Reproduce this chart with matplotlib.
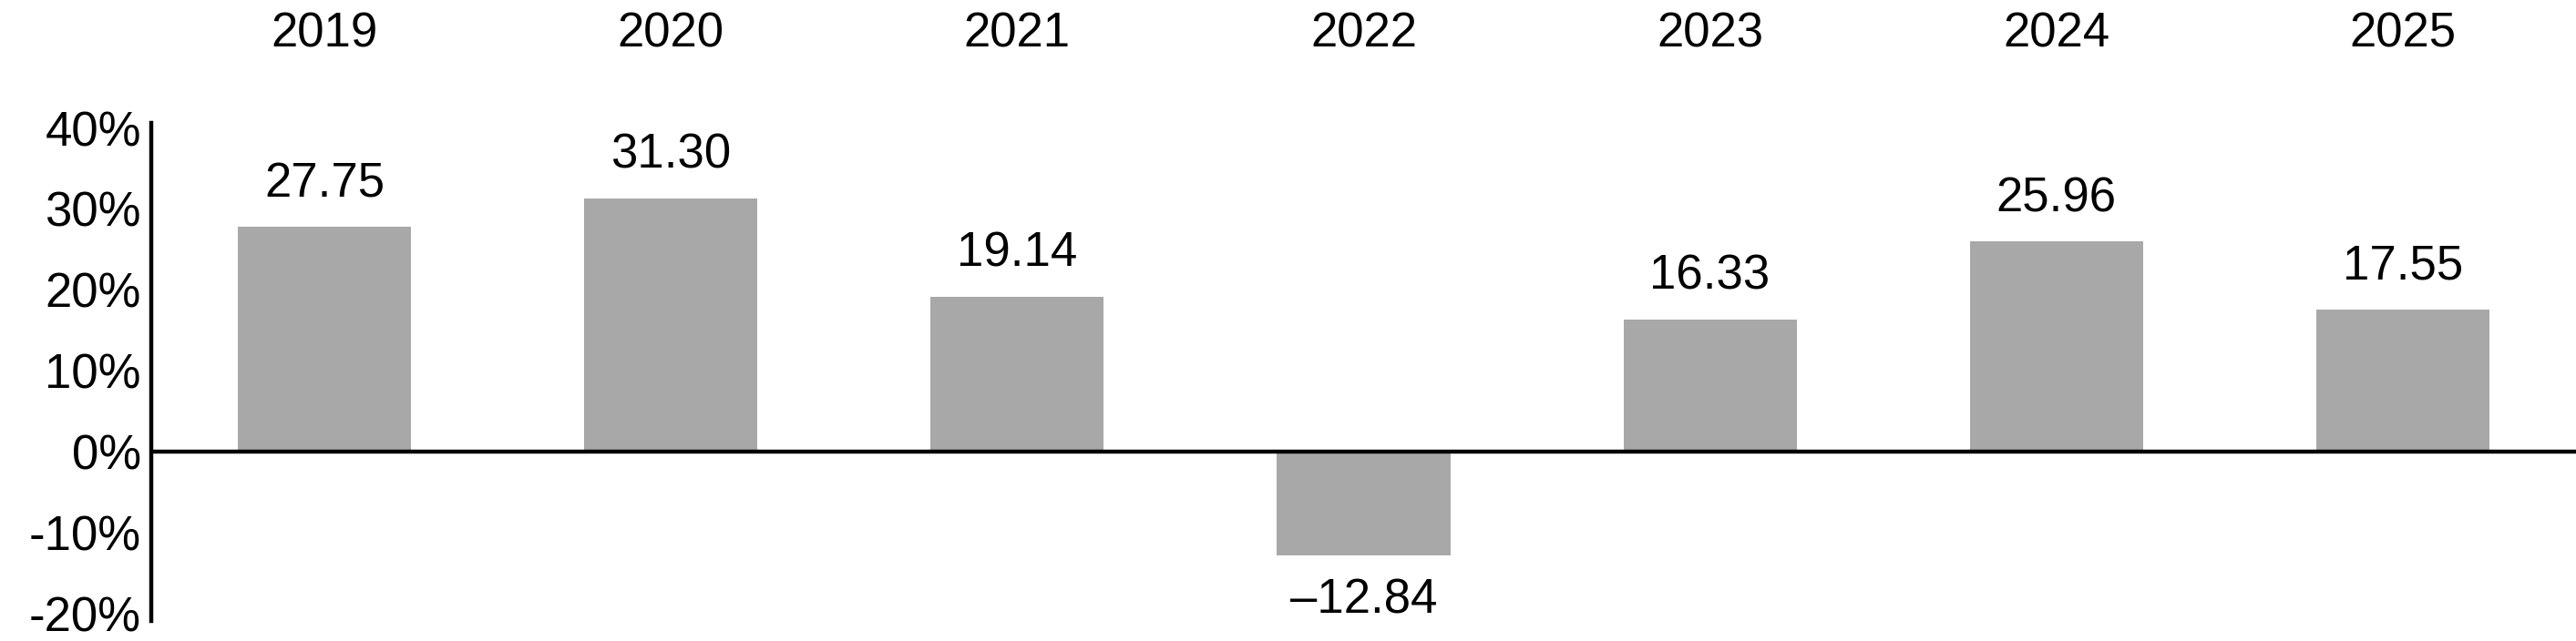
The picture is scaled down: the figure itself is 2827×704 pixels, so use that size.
import matplotlib
matplotlib.use("Agg")
import matplotlib.pyplot as plt
import matplotlib.transforms as mtransforms

years = ["2019", "2020", "2021", "2022", "2023", "2024", "2025"]
returns = [27.75, 31.30, 19.14, -12.84, 16.33, 25.96, 17.55]
yticks = [-20, -10, 0, 10, 20, 30, 40]

plt.rcParams["font.family"] = ["Liberation Sans", "DejaVu Sans"]

fig = plt.figure(figsize=(28.27, 7.04), dpi=100)
ax = fig.add_axes([0.0587, 0.031, 0.9413, 0.777])

x = list(range(len(years)))
ax.bar(x, returns, width=0.5, color="#a8a8a8", zorder=2)
ax.axhline(0, color="black", linewidth=3.2, zorder=3)

ax.set_xlim(-0.5, len(years) - 0.5)
ax.set_ylim(-20.9, 40.6)
ax.set_yticks(yticks)
ax.set_yticklabels(["{}%".format(t) for t in yticks], fontsize=38)
ax.tick_params(axis="y", length=0, pad=8)
ax.set_xticks([])

for s in ["top", "right", "bottom"]:
    ax.spines[s].set_visible(False)
ax.spines["left"].set_linewidth(3.2)

# value labels above / below the bars
for xi, v in zip(x, returns):
    txt = "{:.2f}".format(v).replace("-", "\u2013")
    if v >= 0:
        ax.annotate(txt, (xi, v), xytext=(0, 16), textcoords="offset points",
                    ha="center", va="bottom", fontsize=38)
    else:
        ax.annotate(txt, (xi, v), xytext=(0, -17), textcoords="offset points",
                    ha="center", va="top", fontsize=38)

# year labels along the top of the figure
trans = mtransforms.blended_transform_factory(ax.transData, fig.transFigure)
for xi, yr in zip(x, years):
    ax.text(xi, 0.947, yr, transform=trans, ha="center", va="center", fontsize=38)

fig.savefig("out.png", dpi=100)
